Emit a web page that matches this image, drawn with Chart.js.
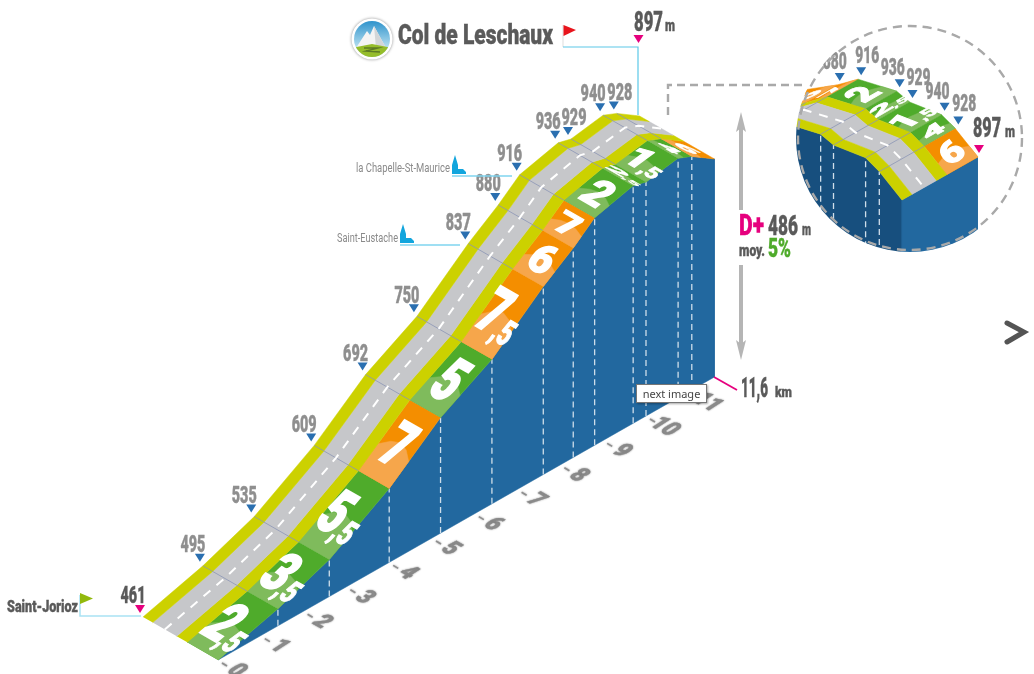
<!DOCTYPE html>
<html>
<head>
<meta charset="utf-8">
<title>Col de Leschaux</title>
<script src="https://cdn.jsdelivr.net/npm/chart.js@4/dist/chart.umd.js"></script>
<style>
    html, body { margin: 0; background: #fff; overflow: hidden; }
    #wrap { position: relative; width: 1034px; height: 674px; }
    canvas { position: absolute; left: 0; top: 0; }
    #insetChart { clip-path: circle(114px at 910px 138px); }
    #hint {
        position: absolute; left: 636px; top: 384px; width: 69px; height: 17px;
        background: #fff; border: 1px solid #767676; box-shadow: 1px 1px 2px rgba(0,0,0,.35);
        font: 11px/17px "Noto Sans", sans-serif; color: #444; text-align: center;
    }
</style>
</head>
<body>
<div id="wrap">
    <canvas id="mainChart" width="1034" height="674"></canvas>
    <canvas id="insetChart" width="1034" height="674"></canvas>
    <div id="hint">next image</div>
</div>
<script>
// values
const waypointKm = [0, 1.4, 2.6, 4, 5.2, 6.4, 7.6, 8.3, 8.8, 9.7, 10, 10.75, 11.07, 11.6];
const altitudes = [461, 495, 535, 609, 692, 750, 837, 880, 916, 936, 929, 940, 928, 897];
const gradients = ['2,5', '3,5', '5,5', '7', '5', '7,5', '6', '7', '2', '2,5', '1,5', '4', '6'];
const kmTicks = [0, 1, 2, 3, 4, 5, 6, 7, 8, 9, 10, 11];

const GREEN = ['#4fab2b', '#7fbb5c'];
const ORANGE = ['#f48e00', '#f6a64b'];
const YELLOW = '#ccd100';
const ROAD = '#c6c7ca';
const GREY_TEXT = '#8f8f8f';
const DARK_TEXT = '#5a5a5a';
const FONT = 'Roboto, sans-serif';

// strip across the road: green, yellow, road, yellow
const EDGE_GREEN = 0.41, EDGE_YELLOW = 0.55, EDGE_ROAD = 0.87, CENTRE = 0.71;
const lightShape = [[0, .38], [.25, .48], [.5, .52], [.75, .48], [1, .38]];

const mainView = {
    xMin: -218 / 42.8, xMax: (1034 - 218) / 42.8, yMin: 433, yMax: 1781,
    p: (km, alt, d) => ({ x: km - d * 75 / 42.8, y: alt + 48.8 * km + 86 * d }),
    baseDepth: 0, lightAtEnd: false
};
const insetView = {
    xMin: -481.5 / 42.8, xMax: (1034 - 481.5) / 42.8, yMin: -703, yMax: 645,
    p: (km, alt, d) => ({ x: km - d * 76 / 42.8, y: alt - 48.8 * km - 86 * d }),
    baseDepth: 1, lightAtEnd: true
};

function poly(points, color) {
    return {
        data: points, showLine: true, fill: 'shape', backgroundColor: color,
        borderColor: color, borderWidth: 0.5, pointRadius: 0, tension: 0
    };
}

function line(points, color, width, dash) {
    return {
        data: points, showLine: true, fill: false, borderColor: color,
        borderWidth: width, borderDash: dash || [], pointRadius: 0, tension: 0
    };
}

function strip(view, d0, d1, i0, i1) {
    const out = [];
    for (let i = i0; i <= i1; i++) out.push(view.p(waypointKm[i], altitudes[i], d0));
    for (let i = i1; i >= i0; i--) out.push(view.p(waypointKm[i], altitudes[i], d1));
    return out;
}

function bandColors(i) {
    return parseFloat(gradients[i].replace(',', '.')) >= 6 ? ORANGE : GREEN;
}

function buildDatasets(view, from) {
    const last = waypointKm.length - 1;
    const sets = [];

    // walls
    const top = [], bottom = [];
    const wd = view.baseDepth;
    for (let i = from; i <= last; i++) top.push(view.p(waypointKm[i], altitudes[i], wd));
    bottom.push(view.p(waypointKm[last], altitudes[0], wd), view.p(waypointKm[from], altitudes[0], wd));
    sets.push(poly(top.concat(bottom), view.baseDepth ? '#174f7e' : '#22689f'));
    if (view.baseDepth) {
        sets.push(poly([
            view.p(waypointKm[last], altitudes[last], 0), view.p(waypointKm[last], altitudes[last], 1),
            view.p(waypointKm[last], altitudes[0], 1), view.p(waypointKm[last], altitudes[0], 0)
        ], '#22689f'));
    }
    for (let i = Math.max(from, 1); i < last; i++) {
        sets.push(line([view.p(waypointKm[i], altitudes[0], wd), view.p(waypointKm[i], altitudes[i], wd)], '#cfdeea', 1.3, [6, 4]));
    }

    // gradient bands, each with its lighter patch
    for (let i = from; i < last; i++) {
        const c = bandColors(i);
        sets.push(poly(strip(view, 0, EDGE_GREEN, i, i + 1), c[0]));
        const k0 = waypointKm[i], k1 = waypointKm[i + 1], a0 = altitudes[i], a1 = altitudes[i + 1];
        const at = f => view.lightAtEnd ? 1 - f : f;
        const patch = [view.p(view.lightAtEnd ? k1 : k0, view.lightAtEnd ? a1 : a0, 0)];
        lightShape.forEach(s => {
            const f = at(s[1]);
            patch.push(view.p(k0 + (k1 - k0) * f, a0 + (a1 - a0) * f, s[0] * EDGE_GREEN));
        });
        patch.push(view.p(view.lightAtEnd ? k1 : k0, view.lightAtEnd ? a1 : a0, EDGE_GREEN));
        sets.push(poly(patch, c[1]));
    }

    // road
    sets.push(poly(strip(view, EDGE_GREEN, EDGE_YELLOW, from, last), YELLOW));
    sets.push(poly(strip(view, EDGE_YELLOW, EDGE_ROAD, from, last), ROAD));
    sets.push(poly(strip(view, EDGE_ROAD, 1, from, last), YELLOW));
    for (let i = Math.max(from, 1); i < last; i++) {
        sets.push(line([view.p(waypointKm[i], altitudes[i], EDGE_GREEN), view.p(waypointKm[i], altitudes[i], 1)], '#8b95b5', 0.8));
    }
    sets.push(line(strip(view, CENTRE, CENTRE, from, last).slice(0, last - from + 1), '#ffffff', 2, [9, 8]));

    sets.forEach((s, i) => { s.order = sets.length - i; });
    return sets;
}

// text squeezed to the width w: the original lettering is very condensed
function text(ctx, str, x, y, size, color, w, opt) {
    opt = opt || {};
    ctx.save();
    ctx.font = (opt.weight || 900) + ' ' + size + 'px ' + FONT;
    const sx = w / ctx.measureText(str).width;
    ctx.translate(x, y);
    ctx.scale(sx, 1);
    ctx.textAlign = opt.align || 'left';
    ctx.textBaseline = 'middle';
    ctx.fillStyle = color;
    ctx.fillText(str, 0, 0);
    if (opt.weight !== 400) {
        ctx.strokeStyle = color;
        ctx.lineWidth = 0.4;
        ctx.strokeText(str, 0, 0);
    }
    ctx.restore();
}

function triangle(ctx, x, y, color) {
    ctx.fillStyle = color;
    ctx.beginPath();
    ctx.moveTo(x - 5, y - 4);
    ctx.lineTo(x + 5, y - 4);
    ctx.lineTo(x, y + 4);
    ctx.closePath();
    ctx.fill();
}

function path(ctx, pts, color, width, dash) {
    ctx.save();
    ctx.strokeStyle = color;
    ctx.lineWidth = width;
    ctx.setLineDash(dash || []);
    ctx.beginPath();
    pts.forEach((p, i) => i ? ctx.lineTo(p[0], p[1]) : ctx.moveTo(p[0], p[1]));
    ctx.stroke();
    ctx.restore();
}

function fillPath(ctx, pts, color) {
    ctx.fillStyle = color;
    ctx.beginPath();
    pts.forEach((p, i) => i ? ctx.lineTo(p[0], p[1]) : ctx.moveTo(p[0], p[1]));
    ctx.closePath();
    ctx.fill();
}

function toPx(chart, pt) {
    return [chart.scales.x.getPixelForValue(pt.x), chart.scales.y.getPixelForValue(pt.y)];
}

// number painted flat on a band: u runs across the road, v along it
function bandNumber(ctx, chart, view, i, inset) {
    const a = toPx(chart, view.p(waypointKm[i], altitudes[i], EDGE_GREEN / 2));
    const b = toPx(chart, view.p(waypointKm[i + 1], altitudes[i + 1], EDGE_GREEN / 2));
    const cx = (a[0] + b[0]) / 2, cy = (a[1] + b[1]) / 2;
    const dx = inset ? b[0] - a[0] : a[0] - b[0], dy = inset ? b[1] - a[1] : a[1] - b[1];
    const len = Math.hypot(dx, dy);
    const u = inset ? [0.66, -0.38] : [0.66, 0.38];
    const size = 52, cap = size * 0.71;
    const k = Math.min(47, 0.62 * len) / cap;
    const parts = gradients[i].split(',');
    const sub = parts[1] ? ',' + parts[1] : '';
    ctx.save();
    ctx.transform(u[0], u[1], dx / len * k, dy / len * k, cx, cy);
    ctx.fillStyle = '#fff';
    ctx.strokeStyle = '#fff';
    ctx.textAlign = 'left';
    ctx.textBaseline = 'alphabetic';
    ctx.font = '900 ' + size * 0.56 + 'px ' + FONT;
    const w2 = sub ? ctx.measureText(sub).width : 0;
    ctx.font = '900 ' + size + 'px ' + FONT;
    const w1 = ctx.measureText(parts[0]).width;
    const x0 = -(w1 + w2 * 0.8) / 2;
    ctx.lineWidth = 1.8;
    ctx.fillText(parts[0], x0, cap / 2);
    ctx.strokeText(parts[0], x0, cap / 2);
    if (sub) {
        ctx.font = '900 ' + size * 0.56 + 'px ' + FONT;
        ctx.lineWidth = 0.8;
        ctx.fillText(sub, x0 + w1 - w2 * 0.1, cap / 2 + 3);
        ctx.strokeText(sub, x0 + w1 - w2 * 0.1, cap / 2 + 3);
    }
    ctx.restore();
}

function drawChurch(ctx, x, y) {
    fillPath(ctx, [[x, y], [x, y - 9], [x + 3, y - 19], [x + 6, y - 9], [x + 6, y - 5], [x + 11, y - 5], [x + 14, y - 2], [x + 14, y]], '#12a5dd');
}

function drawLogo(ctx, x, y) {
    ctx.save();
    ctx.shadowColor = 'rgba(0,0,0,.45)';
    ctx.shadowBlur = 3;
    ctx.fillStyle = '#fff';
    ctx.beginPath();
    ctx.arc(x, y, 20.5, 0, Math.PI * 2);
    ctx.fill();
    ctx.restore();
    ctx.save();
    ctx.beginPath();
    ctx.arc(x, y, 18, 0, Math.PI * 2);
    ctx.clip();
    const g = ctx.createLinearGradient(0, y - 18, 0, y + 10);
    g.addColorStop(0, '#2f93cc');
    g.addColorStop(1, '#bfe4f2');
    ctx.fillStyle = g;
    ctx.fillRect(x - 20, y - 20, 40, 40);
    fillPath(ctx, [[x - 16, y + 9], [x - 5, y - 8], [x - 2, y - 4], [x + 2, y - 13], [x + 14, y + 9]], '#f4f4f4');
    fillPath(ctx, [[x + 2, y - 13], [x + 14, y + 9], [x + 4, y + 9]], '#d3d6d8');
    fillPath(ctx, [[x - 20, y + 20], [x - 20, y + 9], [x, y + 5], [x + 20, y + 9], [x + 20, y + 20]], '#95bd2a');
    path(ctx, [[x - 8, y + 9], [x + 6, y + 9], [x - 6, y + 12], [x + 8, y + 13]], '#5d7a25', 1.4);
    ctx.restore();
}

const mainDecor = {
    id: 'mainDecor',
    afterDatasetsDraw(chart) {
        const ctx = chart.ctx;
        const last = waypointKm.length - 1;

        for (let i = 0; i < last; i++) bandNumber(ctx, chart, mainView, i, false);

        // km ticks along the foot of the wall
        kmTicks.forEach(km => {
            const p = toPx(chart, mainView.p(km, altitudes[0], 0));
            ctx.save();
            ctx.shadowColor = 'rgba(0,0,0,.4)';
            ctx.shadowBlur = 2;
            path(ctx, [[p[0] + 4, p[1] + 3], [p[0] + 9, p[1] + 6]], '#8f8f8f', 1.6);
            ctx.transform(0.87, 0.5, -0.85, 0.55, p[0] + 18, p[1] + 11);
            text(ctx, String(km), 0, 0, 25, '#8f8f8f', String(km).length * 12, { align: 'center' });
            ctx.restore();
        });

        // altitude at each waypoint
        altitudes.forEach((alt, i) => {
            if (i === last) return;
            const p = toPx(chart, mainView.p(waypointKm[i], alt, 1));
            const right = i === 10 || i === 12;
            const tx = p[0] - 3, ty = p[1] - 8;
            triangle(ctx, tx, ty, i === 0 ? '#e6007e' : '#2a6fb0');
            text(ctx, String(alt), tx + (right ? 6 : -7), ty - 11.5, 23, i === 0 ? DARK_TEXT : GREY_TEXT, 25, { align: 'center' });
        });

        // start
        path(ctx, [[80, 595], [80, 616], [141, 616]], '#a9e2f3', 1.5);
        fillPath(ctx, [[80, 593], [93, 598.5], [80, 604]], '#92b90d');
        text(ctx, 'Saint-Jorioz', 7, 608, 17, DARK_TEXT, 71);

        // summit
        drawLogo(ctx, 372, 39);
        text(ctx, 'Col de Leschaux', 398, 37, 28, DARK_TEXT, 155);
        path(ctx, [[563, 25], [563, 47]], '#ddd', 1);
        fillPath(ctx, [[563.5, 25], [576, 30], [563.5, 36]], '#e8141c');
        path(ctx, [[563, 47], [638, 47], [638, 115]], '#5cc8e8', 1.2);
        triangle(ctx, 638.5, 39, '#e6007e');
        text(ctx, '897', 634, 24, 28, DARK_TEXT, 29);
        text(ctx, 'm', 665, 27, 16, DARK_TEXT, 10);

        // villages
        drawChurch(ctx, 452, 174);
        path(ctx, [[452, 176], [512, 176]], '#7fd4ef', 1.3);
        text(ctx, 'la Chapelle-St-Maurice', 356, 169, 13, '#8a8a8a', 94, { weight: 400 });
        drawChurch(ctx, 400, 243);
        path(ctx, [[400, 245], [460, 245]], '#7fd4ef', 1.3);
        text(ctx, 'Saint-Eustache', 337, 239, 13, '#8a8a8a', 61, { weight: 400 });

        // height arrows and climb summary
        path(ctx, [[741, 122], [741, 210]], '#b5b5b5', 4);
        fillPath(ctx, [[741, 112], [746, 132], [741, 128], [736, 132]], '#b5b5b5');
        path(ctx, [[741, 265], [741, 350]], '#b5b5b5', 4);
        fillPath(ctx, [[741, 360], [746, 340], [741, 344], [736, 340]], '#b5b5b5');
        text(ctx, 'D+', 739, 228, 29, '#e6007e', 25);
        text(ctx, '486', 768, 228, 27, DARK_TEXT, 30);
        text(ctx, 'm', 802, 231, 16, DARK_TEXT, 9);
        text(ctx, 'moy.', 739, 252, 17, DARK_TEXT, 26);
        text(ctx, '5%', 768, 251, 25, '#4fab2b', 23);

        // total distance
        path(ctx, [[714, 377], [737, 390]], '#e6007e', 1.8);
        text(ctx, '11,6', 741, 390, 27, DARK_TEXT, 27);
        text(ctx, 'km', 775, 393, 15, DARK_TEXT, 17);

        // link to the close-up
        path(ctx, [[668, 115], [668, 85], [806, 85]], '#a9a9a9', 2.4, [8, 5]);

        // next arrow
        ctx.save();
        ctx.lineCap = 'round';
        path(ctx, [[1007, 323], [1024, 332], [1007, 342]], '#545454', 5);
        ctx.restore();
    }
};

const insetFrom = 6;
const insetLabels = { 7: [-5, -14], 8: [6, -14], 9: [-7, -14], 10: [6, -15], 11: [-7, -14], 12: [6, -15] };

const insetDecor = {
    id: 'insetDecor',
    afterDatasetsDraw(chart) {
        const ctx = chart.ctx;
        const last = waypointKm.length - 1;
        for (let i = insetFrom; i < last; i++) bandNumber(ctx, chart, insetView, i, true);
        Object.keys(insetLabels).forEach(k => {
            const i = Number(k);
            const p = toPx(chart, insetView.p(waypointKm[i], altitudes[i], 0));
            const tx = p[0] + 3, ty = p[1] - 8;
            triangle(ctx, tx, ty, '#2a6fb0');
            text(ctx, String(altitudes[i]), tx + insetLabels[k][0], ty + insetLabels[k][1], 23, GREY_TEXT, 24, { align: 'center' });
        });
        const end = toPx(chart, insetView.p(waypointKm[last], altitudes[last], 0));
        triangle(ctx, end[0] + 1, end[1] - 8, '#e6007e');
        text(ctx, String(altitudes[last]), end[0] + 9, end[1] - 27, 27, DARK_TEXT, 28, { align: 'center' });
        text(ctx, 'm', end[0] + 27, end[1] - 24, 16, DARK_TEXT, 10);
        ctx.save();
        ctx.strokeStyle = '#a9a9a9';
        ctx.lineWidth = 2.4;
        ctx.setLineDash([9, 6]);
        ctx.beginPath();
        ctx.arc(910, 138, 112, 0, Math.PI * 2);
        ctx.stroke();
        ctx.restore();
    }
};

function makeChart(id, view, from, plugin) {
    new Chart(document.getElementById(id), {
        type: 'scatter',
        data: { datasets: buildDatasets(view, from) },
        options: {
            responsive: false,
            animation: false,
            events: [],
            layout: { padding: 0 },
            plugins: { legend: { display: false }, tooltip: { enabled: false } },
            scales: {
                x: { type: 'linear', display: false, min: view.xMin, max: view.xMax },
                y: { type: 'linear', display: false, min: view.yMin, max: view.yMax }
            }
        },
        plugins: [plugin]
    });
}

makeChart('mainChart', mainView, 0, mainDecor);
makeChart('insetChart', insetView, insetFrom, insetDecor);
</script>
</body>
</html>
